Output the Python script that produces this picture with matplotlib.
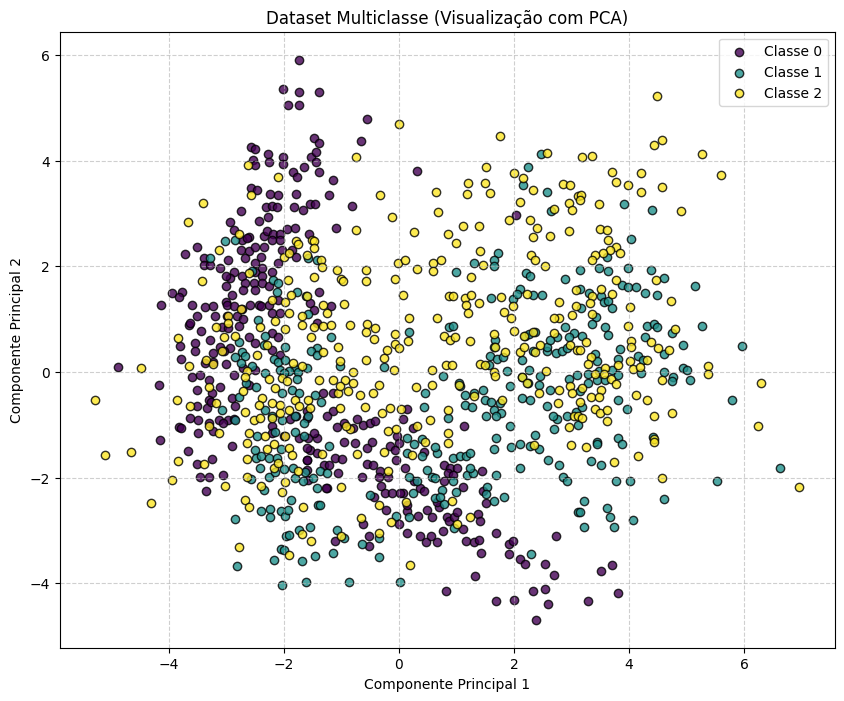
import numpy as np
import matplotlib
matplotlib.use('Agg')
import matplotlib.pyplot as plt

# ── Data (PCA projected points) ──────────────────────────────────────────────
class_names = ['Classe 0', 'Classe 1', 'Classe 2']

class0_pts = [
    (-1.73, 5.91), (-2.02, 5.36), (-1.73, 5.30), (-1.92, 5.06), (-1.73, 5.06), (-1.38, 5.30),
    (-1.48, 4.43), (-1.39, 4.33), (-2.57, 4.26), (-2.50, 4.22), (-2.28, 4.13), (-2.53, 4.02),
    (-2.49, 3.92), (-2.25, 3.98), (-2.01, 4.07), (-2.02, 3.94), (-1.52, 4.07), (-1.44, 4.16),
    (-1.44, 3.98), (-1.84, 3.79), (-1.76, 3.69), (-1.64, 3.87), (-1.38, 3.79), (-2.57, 3.48),
    (-2.46, 3.44), (-2.23, 3.37), (-2.09, 3.35), (-1.78, 3.37), (-2.30, 3.13), (-2.20, 3.15),
    (-2.12, 3.12), (-1.82, 3.12), (-1.67, 3.07), (-1.54, 3.18), (-1.45, 3.18), (-2.75, 3.05),
    (-2.93, 2.84), (-2.43, 2.85), (-2.27, 2.93), (-2.87, 2.69), (-2.61, 2.55), (-2.35, 2.58),
    (-2.29, 2.66), (-2.18, 2.61), (-2.06, 2.62), (-1.94, 2.71), (-1.81, 2.72), (-1.56, 2.62),
    (-0.56, 4.79), (-0.65, 4.38), (-1.14, 3.63), (0.31, 3.80), (-1.21, 3.34), (-0.81, 3.15),
    (2.03, 2.97), (-1.09, 2.73),
    (-3.51, 2.37), (-3.71, 2.23), (-2.72, 2.49), (-2.64, 2.53), (-3.39, 2.15), (-3.39, 2.03),
    (-3.28, 2.03), (-2.96, 2.11), (-2.75, 2.31), (-2.61, 2.28), (-2.50, 2.37), (-2.39, 2.18),
    (-2.35, 2.37), (-2.20, 2.50), (-2.06, 2.50), (-2.03, 2.31), (-1.85, 2.31), (-2.68, 2.15),
    (-2.50, 2.06), (-2.38, 1.96), (-2.49, 1.90), (-2.21, 1.90), (-2.09, 2.06), (-1.79, 2.18),
    (-3.10, 1.96), (-2.87, 1.90), (-2.93, 1.77), (-3.01, 1.81), (-2.72, 1.81), (-2.38, 1.81),
    (-2.67, 1.68), (-2.52, 1.68), (-2.38, 1.68), (-3.94, 1.50), (-3.77, 1.52), (-3.81, 1.41),
    (-4.13, 1.26), (-3.01, 1.62), (-2.90, 1.46), (-2.70, 1.55), (-2.49, 1.55), (-2.26, 1.62),
    (-3.01, 1.33), (-2.09, 1.36), (-1.54, 1.30), (-1.48, 1.17), (-1.39, 1.52), (-3.59, 1.27),
    (-3.37, 1.22), (-3.22, 1.24), (-2.99, 1.27), (-2.87, 1.24), (-2.72, 1.19), (-2.58, 1.27),
    (-2.43, 1.27), (-2.39, 1.24), (-2.26, 1.27), (-3.51, 1.06), (-3.65, 0.89), (-3.62, 0.93),
    (-3.19, 1.06), (-2.99, 1.05), (-2.81, 1.05), (-2.70, 1.00), (-2.21, 1.11), (-2.06, 1.11),
    (-1.42, 0.92), (-3.07, 0.86), (-2.96, 0.83), (-2.78, 0.87), (-3.43, 0.77), (-3.28, 0.61),
    (-3.54, 0.54), (-3.80, 0.49), (-3.54, 0.39), (-2.61, 0.67), (-2.49, 0.54), (-2.20, 0.73),
    (-2.09, 0.67), (-2.20, 0.42), (-2.06, 0.32), (-3.10, 0.48), (-2.93, 0.45), (-3.22, 0.35),
    (-3.04, 0.39), (-3.78, 0.24), (-3.59, -0.09), (-3.45, -0.06), (-3.36, 0.16), (-3.22, 0.18),
    (-3.01, 0.15), (-4.87, 0.10), (-2.87, -0.06), (-2.70, 0.07), (-2.49, 0.04), (-4.16, -0.25),
    (-3.51, -0.34), (-3.30, -0.15), (-3.25, -0.40), (-3.30, -0.53), (-3.10, -0.28), (-2.90, -0.50),
    (-2.84, -0.65), (-2.61, -0.24), (-3.51, -0.64), (-3.33, -0.69), (-3.27, -0.56), (-3.62, -0.87),
    (-3.48, -0.91), (-3.30, -0.97), (-3.13, -0.91), (-2.96, -0.91), (-2.87, -0.89), (-3.81, -1.05),
    (-3.78, -1.07), (-3.48, -1.16), (-4.14, -1.29), (-1.74, -1.25), (-1.57, -1.25), (-1.42, -1.25),
    (-3.22, -1.12), (-3.06, -0.96), (-2.21, -1.03), (-2.21, -1.15), (-2.00, -1.22), (-1.89, -0.90),
    (-1.79, -0.84), (-1.59, -0.74), (-1.59, -0.87), (-1.54, -1.47), (-1.60, -1.66), (-1.48, -1.15),
    (-1.60, -1.85), (-1.57, -2.04),
    (-1.18, 1.25), (-1.32, -0.39), (-1.15, -0.39), (1.135, -1.02), (-1.14, -0.73), (-1.25, -0.84),
    (-0.96, -0.96), (-1.08, -1.05), (-0.79, -1.06), (-0.62, -1.00), (-0.50, -0.96), (-0.41, -0.92),
    (-0.73, -0.89), (0.07, -0.89), (0.15, -0.71), (0.24, -1.06), (-0.03, -1.22),
    (-3.66, -1.49), (-3.51, -1.75), (-3.25, -1.65), (-3.45, -1.98), (-3.29, -1.98), (-3.05, -1.95),
    (-3.35, -2.25), (-2.89, -1.41), (-1.59, -1.44), (-1.42, -1.54), (-1.59, -1.66),
    (-1.30, -1.77), (-1.11, -1.63), (-0.99, -1.65), (-1.22, -1.77), (-1.05, -1.92), (-1.25, -2.20),
    (-0.96, -1.32), (-0.76, -1.35), (-0.56, -1.44), (-0.47, -1.32), (-0.15, -1.41), (-0.07, -1.47),
    (0.01, -1.35), (-0.55, -1.75), (-0.44, -1.76), (-0.33, -1.88), (-0.35, -1.98), (-0.18, -1.98),
    (-0.64, -1.98), (-0.05, -1.66), (0.11, -1.81), (-0.31, -2.15), (-0.24, -2.29), (-0.12, -2.29),
    (0.08, -2.29), (-0.43, -2.36), (-0.22, -2.61), (0.01, -2.88), (0.15, -3.05), (0.15, -2.64),
    (0.15, -2.52), (0.34, -2.72), (0.49, -2.61), (0.57, -2.75), (0.37, -3.11), (0.47, -3.21),
    (0.56, -3.11), (0.66, -3.22), (0.76, -3.02), (0.83, -2.74), (0.88, -2.82), (0.96, -2.75),
    (1.01, -2.65), (1.11, -2.97), (1.17, -3.20), (1.31, -3.22), (1.40, -3.18), (1.43, -3.43),
    (1.38, -2.69), (1.41, -2.82), (1.47, -2.25), (1.52, -2.48), (1.69, -3.05), (1.91, -3.26),
    (1.99, -3.20), (1.91, -3.45), (2.11, -3.54), (2.20, -3.64), (2.54, -3.64), (2.69, -3.84),
    (2.73, -3.11), (1.33, -3.87), (0.82, -4.14), (1.69, -4.33), (2.00, -4.31), (2.34, -4.15),
    (2.54, -4.10), (2.60, -4.39), (2.39, -4.69), (-0.51, -3.10), (-0.51, -3.30), (-0.62, -2.88),
    (-1.11, -3.20), (-1.27, -2.20), (0.37, -2.20), (0.43, -2.26), (0.78, -1.77), (0.89, -1.82),
    (1.01, -1.81), (0.86, -1.92), (0.78, -2.07), (1.12, -2.17), (1.44, -1.88), (0.94, -1.95),
    (0.69, -2.55), (0.67, -2.46), (0.44, -1.51), (0.27, -2.07), (0.02, -2.29),
    (3.52, -3.76), (3.70, -3.66), (3.81, -4.19), (3.28, -4.34),
]

class1_pts = [
    (-3.02, 2.48), (-2.84, 2.50), (2.47, 4.13), (2.24, 3.88), (2.15, 3.54), (2.57, 3.41),
    (2.64, 3.05), (3.91, 3.18), (4.40, 3.07), (4.03, 2.52),
    (-3.28, 2.15), (-1.57, 2.15), (-1.42, 2.12), (-2.55, 1.91), (-2.19, 1.74), (-2.10, 1.68),
    (-2.12, 1.52), (-1.77, 1.52), (-1.62, 1.43), (-2.45, 0.99), (-1.57, 1.10), (-2.32, 0.68),
    (-2.78, 0.56), (-2.35, 0.51), (-1.97, 0.48), (-1.42, 0.45), (-1.52, 0.39), (-1.42, 0.32),
    (-2.72, 0.37), (-2.67, 0.30), (-2.84, 0.29), (-2.75, 0.16), (-2.55, 0.11), (-2.16, 0.24),
    (-2.10, 0.18), (-1.98, 0.22), (-1.80, 0.05), (-1.59, 0.07), (-1.75, -0.01), (-1.91, 0.01),
    (-2.06, 0.04), (-2.66, -0.21), (-2.48, -0.29), (-2.32, -0.02), (-2.00, -0.02), (-1.77, -0.14),
    (-2.78, -0.47), (-3.07, -0.72), (-2.03, -0.40), (-1.85, -0.35), (-1.74, -0.40), (-1.45, -0.43),
    (-2.84, -0.91), (-2.32, -0.72), (-2.20, -0.84), (-2.03, -0.91), (-1.80, -0.84), (-1.65, -0.97),
    (-1.57, -0.84), (-2.46, -1.22), (-2.15, -1.13), (-1.80, -1.13), (-1.65, -1.22),
    (1.73, 2.26), (1.66, 2.11), (1.65, 2.01), (1.31, 2.07), (1.00, 1.90), (2.21, 1.87),
    (2.28, 1.82), (2.89, 1.75), (2.11, 1.57), (2.34, 1.46), (2.49, 1.46), (1.61, 1.40),
    (1.98, 1.38), (2.06, 1.48), (0.18, 0.75), (-1.17, 0.66), (0.88, 0.85), (0.94, 0.87),
    (2.20, 0.68), (2.27, 0.72), (2.36, 0.76), (1.67, 0.60), (1.66, 0.48), (1.58, 0.30),
    (1.70, 0.24), (1.81, 0.28), (2.14, 0.23), (2.34, 0.40), (2.57, 0.39), (2.73, 0.35),
    (2.83, 0.39), (2.92, 0.45), (2.58, 0.47), (2.89, 0.86), (2.75, 0.67), (2.63, 0.61),
    (3.04, 0.73), (2.95, 0.67), (-1.03, 0.11), (-0.26, 0.10), (0.76, -0.07), (1.56, 0.13),
    (1.88, 0.01), (1.94, -0.26), (2.14, -0.09), (2.27, 0.03), (2.46, -0.07), (2.63, -0.35),
    (2.25, -0.21), (2.43, -0.24), (2.95, -0.14), (3.10, -0.06), (2.14, -0.50), (2.28, -0.54),
    (2.57, -0.65), (2.75, -0.89), (2.69, -1.08), (2.92, -0.84), (3.07, -0.75),
    (-1.36, -0.56), (0.46, -0.40), (1.07, -0.26), (1.15, -0.43), (1.31, -0.40), (1.47, -0.35),
    (1.15, -0.62), (1.27, -0.66), (1.50, -0.53), (1.60, -0.56), (1.76, -0.59), (1.65, -0.72),
    (1.52, -0.84), (1.77, -0.77), (1.69, -0.84), (0.85, -0.88), (1.05, -0.21), (0.43, -0.66),
    (1.94, -1.03), (1.68, -1.25), (2.37, -1.19), (2.68, -0.84), (0.14, -1.25), (0.40, -1.27),
    (3.61, 2.17), (3.47, 1.96), (3.64, 1.92), (3.98, 1.96), (4.39, 1.93), (4.61, 1.77),
    (5.14, 1.63), (3.15, 1.93), (3.87, 1.65), (3.99, 1.60), (4.12, 1.60), (4.27, 1.50),
    (4.48, 1.46), (3.30, 1.50), (3.52, 1.44), (3.57, 1.33), (3.64, 1.35), (3.71, 1.21),
    (3.15, 1.57), (3.16, 1.21), (3.42, 1.04), (3.35, 0.91), (3.59, 0.86), (3.64, 0.69),
    (4.32, 0.87), (4.44, 0.91), (4.48, 0.85), (4.75, 0.73), (5.26, 0.87), (4.27, 0.67),
    (4.94, 0.51), (5.97, 0.49), (3.18, 0.68), (4.60, 0.34), (3.84, 0.44), (3.40, 0.34),
    (3.80, 0.24), (4.15, 0.30), (4.25, 0.22), (3.44, 0.20), (4.21, -0.02), (4.93, 0.07),
    (5.00, 0.04), (4.61, -0.01), (4.77, -0.10), (4.75, -0.18), (5.06, -0.16), (5.78, -0.54),
    (3.28, -0.04), (3.44, -0.16), (3.58, -0.15), (3.71, 0.03), (3.80, -0.06), (3.47, 0.01),
    (3.81, -0.53), (3.96, -0.71), (3.28, -0.21), (3.15, -0.37), (3.18, -0.66), (3.12, -1.00),
    (3.81, -1.25), (4.42, -1.23), (3.45, -1.32),
    (-2.49, -1.47), (-2.48, -1.63), (-2.39, -1.60), (-2.26, -1.63), (-2.12, -1.62), (-2.04, -1.46),
    (-2.41, -1.82), (-2.26, -1.98), (-2.15, -1.90), (-2.00, -1.83), (-1.83, -1.81), (-1.63, -1.90),
    (-1.49, -2.00), (-1.80, -2.01), (-1.67, -2.06), (-2.56, -2.02), (-2.35, -2.23), (-1.88, -2.42),
    (-2.39, -2.64), (-2.23, -2.59), (-2.23, -2.75), (-2.04, -2.64), (-1.98, -2.72), (-1.92, -2.61),
    (-2.84, -2.78), (-1.96, -3.11), (-1.91, -3.08), (-1.73, -2.99), (-1.55, -2.93), (-2.04, -3.35),
    (-2.00, -3.37), (-2.17, -3.56), (-1.69, -3.57), (-1.46, -3.49), (-2.81, -3.68), (-1.62, -3.97),
    (-2.03, -4.04), (-1.42, -2.19), (-1.40, -2.52),
    (-1.21, -1.41), (-1.37, -1.88), (-1.24, -1.92), (-1.37, -2.52), (-1.07, -2.99), (-0.95, -3.15),
    (-1.14, -3.43), (-0.86, -3.97), (-0.64, -3.26), (-0.35, -3.15), (-0.35, -3.51), (-0.50, -2.33),
    (0.02, -3.97), (-0.04, -2.72), (0.17, -2.75), (0.18, -1.99), (0.31, -2.07), (0.25, -2.29),
    (0.15, -1.54), (0.27, -1.37), (0.40, -1.60), (0.49, -1.85), (0.57, -1.98), (0.63, -2.00),
    (0.66, -1.54), (0.63, -1.43), (0.75, -2.23), (0.79, -2.50), (0.63, -2.39), (0.71, -2.36),
    (0.94, -1.62), (0.94, -2.06), (1.00, -2.28), (1.07, -1.60), (1.17, -1.60), (1.23, -1.54),
    (1.18, -1.95), (1.29, -1.92), (1.23, -1.81), (0.96, -2.96), (1.53, -2.17), (1.52, -2.31),
    (1.66, -2.45), (1.83, -2.36), (1.69, -1.95), (1.66, -1.46), (1.95, -1.43), (2.11, -1.82),
    (2.11, -1.37), (2.28, -1.41), (2.43, -1.46), (2.60, -1.66), (2.78, -1.77), (2.85, -1.98),
    (2.93, -2.06), (3.11, -2.65), (2.30, -3.45),
    (3.45, -1.37), (3.87, -1.37), (3.34, -1.68), (3.52, -1.76), (3.78, -2.06), (4.02, -2.07),
    (5.52, -2.06), (6.63, -1.81), (4.60, -2.40), (3.21, -2.45), (3.15, -2.65), (3.61, -2.57),
    (3.67, -2.74), (4.07, -2.80), (3.22, -2.94), (3.74, -2.93),
]

class2_pts = [
    (-2.62, 3.92), (-2.09, 3.69), (-2.56, 3.35), (-3.40, 3.20), (-3.66, 2.84), (-2.78, 2.62),
    (-1.79, 2.47), (-1.51, 2.50),
    (0.01, 4.69), (1.76, 4.47), (-0.75, 4.06), (2.57, 4.15), (1.52, 3.88), (2.01, 3.77),
    (2.15, 3.68), (2.34, 3.45), (2.85, 3.56), (2.97, 3.54), (1.21, 3.58), (1.49, 3.58),
    (1.19, 3.37), (1.58, 3.39), (0.65, 3.41), (-0.33, 3.34), (0.68, 3.03), (-0.11, 2.94),
    (2.11, 3.22), (1.91, 2.88), (2.28, 2.88), (2.40, 2.73), (2.34, 2.56), (2.69, 3.09),
    (2.95, 3.19), (3.01, 3.07), (3.11, 3.33), (-0.75, 2.69), (0.26, 2.65), (0.86, 2.62),
    (1.12, 2.77), (1.40, 2.77), (1.00, 2.45), (2.62, 2.58), (2.95, 2.66),
    (4.49, 5.23), (4.43, 4.30), (4.57, 4.39), (5.26, 4.13), (3.19, 4.06), (3.35, 4.09),
    (3.70, 3.79), (4.20, 3.77), (5.59, 3.72), (3.78, 3.60), (3.98, 3.54), (4.57, 3.51),
    (4.20, 3.41), (3.16, 3.34), (3.14, 3.26), (3.48, 3.18), (4.90, 3.05), (3.49, 2.71),
    (3.61, 2.69), (3.64, 2.50),
    (-3.12, 2.31), (-2.00, 2.18), (-1.91, 2.25), (-1.75, 2.42), (-1.60, 2.22), (-1.48, 2.47),
    (-1.48, 2.34), (-2.61, 1.87), (-3.42, 1.72), (-1.92, 1.74), (-1.48, 1.80), (-2.21, 1.36),
    (-1.98, 1.33), (-1.88, 1.46), (-1.59, 1.43), (-2.74, 1.19), (-2.96, 1.06), (-2.96, 0.93),
    (-1.91, 1.11), (-1.68, 1.05), (-2.15, 0.97), (-1.69, 0.89), (-1.48, 0.86), (-3.17, 0.85),
    (-2.41, 0.85), (-1.98, 0.81), (-3.83, 0.64), (-3.03, 0.67), (-2.85, 0.68), (-2.29, 0.51),
    (-1.52, 0.67), (-3.07, 0.40), (-2.46, 0.32), (-1.83, 0.16), (-1.68, 0.11), (-2.03, -0.12),
    (-2.26, -0.14), (-2.15, -0.31), (-1.94, -0.18), (-3.65, 0.11), (-3.35, 0.23), (-3.23, 0.15),
    (-4.48, 0.08), (-2.64, 0.01), (-2.68, -0.09), (-5.28, -0.53), (-3.30, -0.28), (-3.17, -0.59),
    (-2.70, -0.37), (-2.38, -0.50), (-2.43, -0.62), (-2.20, -0.59), (-2.06, -0.62), (-1.80, -0.53),
    (-1.57, -0.53), (-1.39, -0.15), (-3.85, -0.53), (-3.62, -0.64), (-2.68, -0.75), (-2.52, -0.91),
    (-2.41, -0.88), (-2.20, -0.88), (-2.06, -0.78), (-1.91, -0.72), (-1.73, -0.65), (-1.54, -0.69),
    (-3.30, -1.02), (-3.13, -1.16), (-2.61, -1.16), (-2.32, -1.22), (-1.97, -1.22),
    (1.41, 2.28), (1.46, 2.03), (-0.02, 2.07), (0.10, 2.12), (0.32, 1.95), (0.59, 2.07),
    (0.59, 1.91), (0.73, 2.12), (-0.07, 1.76), (0.08, 1.46), (-1.36, 2.11), (-1.34, 1.99),
    (-1.07, 1.93), (-0.57, 1.93), (-0.57, 1.73), (-1.00, 1.76), (-0.97, 1.73), (1.25, 1.79),
    (2.30, 2.22), (2.37, 2.12), (2.54, 2.01), (2.23, 1.48), (3.07, 1.55), (2.79, 1.33),
    (0.88, 1.44), (0.94, 1.44), (1.15, 1.40), (1.25, 1.46), (1.16, 1.27), (1.21, 1.12),
    (1.40, 1.31), (1.78, 1.41), (1.83, 1.14), (1.99, 1.24), (1.95, 1.02), (2.01, 0.78),
    (-1.32, 1.27), (-0.95, 1.29), (-1.25, 1.12), (0.18, 1.03), (0.66, 1.03), (-1.32, 0.87),
    (-1.17, 0.89), (-0.85, 0.89), (-0.55, 0.91), (-0.42, 0.83), (-0.57, 0.75), (-0.43, 0.62),
    (-0.07, 0.72), (0.16, 0.58), (-0.07, 0.53), (0.01, 0.45), (0.79, 0.68), (0.89, 0.61),
    (0.98, 0.66), (1.24, 0.59), (1.66, 0.72), (1.67, 0.48), (2.18, 0.68), (2.34, 0.76),
    (1.85, 0.37), (2.11, 0.37), (2.17, 0.47), (2.37, 0.37), (2.46, 0.51), (2.69, 0.73),
    (2.79, 1.02), (2.69, 1.02), (3.01, 1.08), (3.07, 1.24), (2.98, 0.51), (3.10, 0.42),
    (-1.32, 0.37), (-1.05, 0.48), (-1.03, 0.20), (-0.80, 0.00), (-0.57, 0.23), (-0.26, 0.26),
    (-0.21, 0.42), (-0.08, 0.04), (0.57, 0.04), (0.82, 0.13), (0.92, 0.13), (1.41, 0.15),
    (1.50, 0.13), (1.66, -0.01), (1.67, -0.07), (2.14, -0.10), (2.23, -0.21), (2.55, 0.01),
    (2.43, -0.39), (2.78, -0.35), (2.98, -0.26), (3.01, -0.40), (2.76, -0.58), (3.04, -0.83),
    (2.95, -1.05), (-1.15, -0.16), (-0.93, -0.15), (-0.80, -0.21), (-0.34, -0.24), (0.30, -0.28),
    (0.57, -0.24), (-0.44, -0.39), (-0.68, -0.43), (-1.05, -0.39), (-0.89, -0.37), (-1.02, -0.26),
    (1.31, -0.45), (1.79, -0.53), (0.86, -0.72), (0.85, -1.15), (1.04, -0.25), (-1.03, -0.69),
    (-0.59, -0.67), (-0.30, -0.77), (-0.16, -0.69), (0.03, -0.71), (0.31, -1.02), (0.54, -0.91),
    (-0.18, -1.11), (-0.05, -1.08), (-0.85, -1.08), (-0.91, -1.02),
    (3.78, 2.37), (3.84, 2.26), (3.67, 2.31), (3.55, 2.25), (3.41, 2.22), (3.36, 2.12),
    (4.46, 1.74), (3.77, 1.74), (3.51, 1.57), (3.36, 1.44), (3.71, 1.48), (3.32, 1.30),
    (4.73, 1.35), (4.02, 1.22), (3.35, 1.10), (3.98, 0.87), (4.79, 0.81), (4.03, 0.59),
    (4.03, 0.48), (4.39, 0.56), (4.50, 0.45), (4.70, 0.42), (3.25, 0.56), (3.15, 0.42),
    (3.34, 0.29), (3.29, 0.15), (4.02, 0.20), (4.32, 0.23), (4.07, 0.05), (4.19, 0.10),
    (3.58, 0.07), (3.80, 0.13), (3.40, -0.04), (3.57, -0.04), (5.38, 0.11), (5.38, -0.04),
    (4.57, -0.15), (6.30, -0.21), (4.12, -0.43), (4.32, -0.53), (4.74, -0.77), (4.44, -0.83),
    (6.24, -1.03), (3.69, -0.14), (3.77, -0.23), (3.52, -0.34), (3.19, -0.31), (3.34, -0.48),
    (3.48, -0.48), (3.40, -0.71), (3.50, -0.78), (3.61, -0.72), (3.61, -0.92), (3.15, -0.56),
    (3.12, -0.84), (3.19, -0.87), (4.44, -1.27),
    (-5.10, -1.57), (-4.65, -1.52), (-3.84, -1.68), (-3.39, -1.75), (-3.94, -2.04), (-3.02, -2.15),
    (-4.30, -2.48), (-2.64, -1.35), (-2.64, -1.65), (-2.64, -1.98), (-2.39, -2.15), (-2.68, -2.42),
    (-2.61, -2.55), (-2.77, -3.31), (-2.29, -1.46), (-2.16, -1.37), (-1.91, -1.44), (-1.86, -1.58),
    (-2.17, -1.82), (-2.10, -1.73), (-1.75, -1.87), (-1.98, -2.09), (-2.03, -2.28), (-1.67, -2.55),
    (-1.68, -3.07), (-1.52, -3.20), (-1.90, -3.47),
    (-1.34, -1.56), (-0.72, -1.56), (-0.26, -1.52), (-0.18, -1.87), (-1.01, -2.17), (-0.35, -2.52),
    (-0.66, -2.76), (-0.14, -2.84), (0.13, -2.46), (-1.01, -3.10), (-0.35, -3.05), (0.20, -3.66),
    (0.23, -1.58), (0.46, -1.32), (0.86, -1.35), (0.92, -2.44), (1.24, -2.74), (1.01, -2.88),
    (2.35, -1.39), (2.99, -1.38),
    (3.25, -1.43), (3.73, -1.70), (4.16, -1.60), (4.58, -2.00), (4.44, -1.32), (6.96, -2.17),
]

# ── Plot setup ────────────────────────────────────────────────────────────────
fig, ax = plt.subplots(figsize=(10, 8), dpi=100)

cmap = plt.cm.viridis
all_pts = [class0_pts, class1_pts, class2_pts]
for i, pts in enumerate(all_pts):
    arr = np.array(pts)
    ax.scatter(arr[:, 0], arr[:, 1], color=cmap(i / 2), edgecolors='k',
               alpha=0.8, s=36, label=class_names[i])

ax.set_title('Dataset Multiclasse (Visualização com PCA)')
ax.set_xlabel('Componente Principal 1')
ax.set_ylabel('Componente Principal 2')
ax.legend(loc='upper right')
ax.grid(True, linestyle='--', alpha=0.6)

plt.savefig('out.png', bbox_inches='tight', dpi=100)
